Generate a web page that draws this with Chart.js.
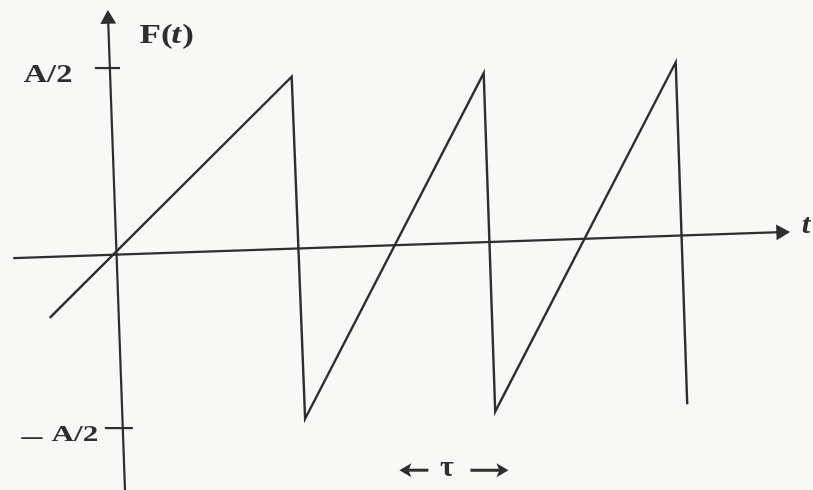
<!DOCTYPE html>
<html>
<head>
<meta charset="utf-8">
<script src="https://cdn.jsdelivr.net/npm/chart.js@4.4.1/dist/chart.umd.min.js"></script>
<style>
  html, body { margin: 0; padding: 0; background: #f8f8f6; }
  #wrap { width: 813px; height: 490px; position: relative; }
</style>
</head>
<body>
<div id="wrap"><canvas id="c"></canvas></div>
<script>
// sawtooth vertices (t in units of the period, F in units of A)
const sawT = [-0.35, 0.91, 0.98, 1.91, 1.97, 2.91, 2.97];
const sawF = [-0.18, 0.49, -0.46, 0.50, -0.44, 0.53, -0.42];

// axes as drawn (the scan is slightly skewed)
const tAxisT = [-0.54, 3.458];
const tAxisF = [-0.014, 0.058];
const fAxisT = [0.042, -0.046];
const fAxisF = [-0.658, 0.65];

// tick marks on the F axis
const tickLabels = ['A/2', 'A/2'];
const tickF = [0.514, -0.486];
const tickT0 = [-0.115, -0.063];
const tickT1 = [0.016, 0.083];

const ink = '#2e2e2e';

function pts(xs, ys) {
  return xs.map((x, i) => ({ x: x, y: ys[i] }));
}

const textPlugin = {
  id: 'labels',
  beforeDraw(chart) {
    const ctx = chart.ctx;
    ctx.save();
    ctx.fillStyle = '#f8f8f6';
    ctx.fillRect(0, 0, chart.width, chart.height);
    ctx.restore();
  },
  afterDatasetsDraw(chart) {
    const { ctx, scales: { x, y } } = chart;
    // text stretched sideways a little, like the scanned type
    const put = (txt, t, f, font, sx) => {
      ctx.save();
      ctx.translate(x.getPixelForValue(t), y.getPixelForValue(f));
      ctx.scale(sx || 1, 1);
      ctx.font = font;
      ctx.textAlign = 'center';
      ctx.textBaseline = 'middle';
      ctx.fillText(txt, 0, 0);
      ctx.restore();
    };
    const arrow = (t0, t1, f) => {
      const x0 = x.getPixelForValue(t0), x1 = x.getPixelForValue(t1);
      const py = y.getPixelForValue(f);
      const dir = Math.sign(x1 - x0);
      ctx.beginPath();
      ctx.moveTo(x0, py);
      ctx.lineTo(x1 - dir * 6, py);
      ctx.lineWidth = 3;
      ctx.stroke();
      ctx.beginPath();
      ctx.moveTo(x1, py);
      ctx.lineTo(x1 - dir * 12, py - 7);
      ctx.lineTo(x1 - dir * 9, py);
      ctx.lineTo(x1 - dir * 12, py + 7);
      ctx.closePath();
      ctx.fill();
    };
    ctx.save();
    ctx.fillStyle = ink;
    ctx.strokeStyle = ink;
    put(tickLabels[0], -0.359, 0.494, 'bold 26px "Liberation Serif"', 1.25);
    put('\u2013', -0.443, -0.511, 'bold 26px "Liberation Serif"', 1.6);
    put(tickLabels[1], -0.219, -0.506, 'bold 24px "Liberation Serif"', 1.3);
    put('F(', -0.609 + 156 / 192, 0.603, 'bold 27px "Liberation Serif"', 1.3);
    put('t', -0.609 + 176 / 192, 0.603, 'italic bold 27px "Liberation Serif"', 1.3);
    put(')', -0.609 + 188 / 192, 0.603, 'bold 27px "Liberation Serif"', 1.3);
    put('t', 3.589, 0.075, 'italic bold 28px "Liberation Serif"', 1.1);
    // period marker  <- tau ->
    arrow(1.622, 1.471, -0.603);
    put('\u03c4', 1.719, -0.598, 'bold 30px "Liberation Serif"', 1.0);
    arrow(1.841, 2.039, -0.603);
    ctx.restore();
  }
};

const lineStyle = {
  borderColor: ink,
  backgroundColor: ink,
  borderWidth: 2.4,
  pointRadius: 0,
  showLine: true,
  tension: 0,
  fill: false
};

const datasets = [
  Object.assign({}, lineStyle, { data: pts(sawT, sawF) }),
  Object.assign({}, lineStyle, {
    data: pts(tAxisT, tAxisF), borderWidth: 2.2,
    pointStyle: 'triangle', pointRadius: [0, 7], rotation: 88
  }),
  Object.assign({}, lineStyle, {
    data: pts(fAxisT, fAxisF), borderWidth: 2.2,
    pointStyle: 'triangle', pointRadius: [0, 7], rotation: -2
  })
];
tickF.forEach((f, i) => {
  datasets.push(Object.assign({}, lineStyle, {
    data: pts([tickT0[i], tickT1[i]], [f, f]), borderWidth: 2.2
  }));
});

new Chart(document.getElementById('c'), {
  type: 'scatter',
  data: { datasets: datasets },
  options: {
    responsive: true,
    maintainAspectRatio: false,
    animation: false,
    layout: { padding: 0, autoPadding: false },
    plugins: { legend: { display: false }, tooltip: { enabled: false } },
    scales: {
      x: { type: 'linear', display: false, min: -0.609, max: 3.625 },
      y: { type: 'linear', display: false, min: -0.658, max: 0.703 }
    }
  },
  plugins: [textPlugin]
});
</script>
</body>
</html>
